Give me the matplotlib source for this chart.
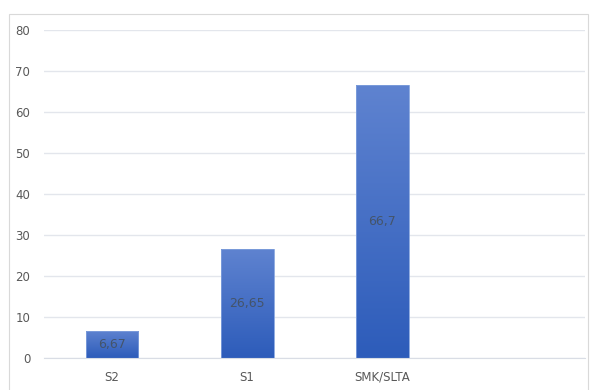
import numpy as np
import matplotlib.pyplot as plt
from matplotlib.colors import LinearSegmentedColormap
from matplotlib.patches import Rectangle

categories = ["S2", "S1", "SMK/SLTA", ""]
values = [6.67, 26.65, 66.7, None]
labels = ["6,67", "26,65", "66,7", ""]
yticks = [0, 10, 20, 30, 40, 50, 60, 70, 80]

fig = plt.figure(figsize=(5.9, 3.9), dpi=100)
ax = fig.add_axes([0.075, 0.082, 0.917, 0.841])

# outer chart border
fig.patches.append(Rectangle((0.016, -0.01), 0.98, 0.974, transform=fig.transFigure,
                             fill=False, edgecolor="#d9d9d9", linewidth=0.8))

cmap = LinearSegmentedColormap.from_list("bar", ["#2d5cba", "#5f83d0"])
grad = np.linspace(0, 1, 256).reshape(-1, 1)
width = 0.39
for i, v in enumerate(values):
    if v is None:
        continue
    bar = ax.bar(i, v, width=width, color="none", edgecolor="#7f9fdc",
                 linewidth=0.6, zorder=3)[0]
    im = ax.imshow(grad, cmap=cmap, origin="lower", aspect="auto",
                   extent=[i - width / 2, i + width / 2, 0, v], zorder=2)
    im.set_clip_path(bar)
    ax.text(i, v / 2, labels[i], ha="center", va="center",
            fontsize=9, color="#44546a", zorder=4)

ax.set_xlim(-0.5, len(categories) - 0.5)
ax.set_ylim(0, 80)
ax.set_yticks(yticks)
ax.set_xticks(range(len(categories)))
ax.set_xticklabels(categories)
ax.grid(axis="y", color="#e3e6ec", linewidth=1, zorder=0)
for s in ["top", "right", "left"]:
    ax.spines[s].set_visible(False)
ax.spines["bottom"].set_color("#d9dde5")
ax.tick_params(length=0, labelsize=8.5, colors="#595959")
ax.tick_params(axis="y", pad=10)
ax.tick_params(axis="x", pad=9)

plt.savefig("out.png")
